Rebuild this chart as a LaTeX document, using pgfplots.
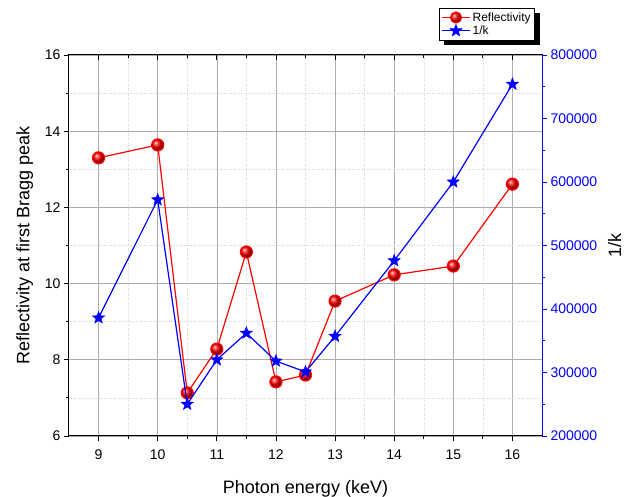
\documentclass[border=0pt]{standalone}
\usepackage{pgfplots}
\pgfplotsset{compat=1.18}
\usepackage{fontspec}
\setmainfont{Liberation Sans}

% filled five-pointed star
\pgfdeclareplotmark{fstar}{%
  \pgfpathmoveto{\pgfpointpolar{90}{\pgfplotmarksize}}%
  \pgfpathlineto{\pgfpointpolar{126}{0.42\pgfplotmarksize}}%
  \pgfpathlineto{\pgfpointpolar{162}{\pgfplotmarksize}}%
  \pgfpathlineto{\pgfpointpolar{198}{0.42\pgfplotmarksize}}%
  \pgfpathlineto{\pgfpointpolar{234}{\pgfplotmarksize}}%
  \pgfpathlineto{\pgfpointpolar{270}{0.42\pgfplotmarksize}}%
  \pgfpathlineto{\pgfpointpolar{306}{\pgfplotmarksize}}%
  \pgfpathlineto{\pgfpointpolar{342}{0.42\pgfplotmarksize}}%
  \pgfpathlineto{\pgfpointpolar{18}{\pgfplotmarksize}}%
  \pgfpathlineto{\pgfpointpolar{54}{0.42\pgfplotmarksize}}%
  \pgfpathclose
  \pgfusepathqfillstroke
}

\begin{document}
\begin{tikzpicture}
\pgfplotsset{
  every axis/.append style={
    scale only axis, width=473pt, height=381pt,
    at={(0,0)}, anchor=south west,
    xmin=8.5, xmax=16.5,
    font=\fontsize{14}{16}\selectfont,
    /pgf/number format/assume math mode=true,
    label style={font=\fontsize{18}{20}\selectfont},
    axis line style={line width=1pt},
    major tick length=5pt, minor tick length=3pt,
  },
}
% left axis: reflectivity
\begin{axis}[
  ymin=6, ymax=16, ytick={6,8,...,16}, minor y tick num=1,
  xtick={9,...,16}, minor x tick num=1,
  xtick pos=bottom, ytick pos=left, tick align=outside,
  tick style={black, line width=0.8pt},
  xticklabel style={yshift=-5pt},
  grid=both,
  major grid style={gray!65, line width=0.6pt, solid},
  minor grid style={gray!35, line width=0.5pt, dotted},
  xlabel={Photon energy (keV)},
  xlabel style={yshift=-14pt},
  ylabel={Reflectivity at first Bragg peak},
  ylabel style={yshift=5pt},
]
\addplot[red, line width=1.2pt, mark=ball, mark size=6pt, mark options={ball color=red}]
  coordinates {(9,13.30) (10,13.64) (10.5,7.13) (11,8.28) (11.5,10.83) (12,7.42)
  (12.5,7.60) (13,9.54) (14,10.23) (15,10.46) (16,12.61)};
\end{axis}
% top ticks, pointing inward
\begin{axis}[
  axis x line*=top, axis y line=none,
  ymin=0, ymax=1,
  xtick={9,...,16}, minor x tick num=1, xticklabels={},
  tick align=inside, tick style={black, line width=0.8pt},
]
\end{axis}
% right axis: 1/k
\begin{axis}[
  axis y line*=right, axis x line=none,
  ymin=200000, ymax=800000, ytick={200000,300000,...,800000}, minor y tick num=1,
  scaled y ticks=false,
  yticklabel style={text=blue, /pgf/number format/fixed, /pgf/number format/1000 sep={}},
  tick align=outside,
  y axis line style={blue, line width=1pt},
  ytick style={blue, line width=0.8pt},
  minor y tick style={blue, line width=0.8pt},
  ylabel={1/k},
  ylabel style={yshift=-4pt},
  legend style={name=leg, at={(0.985,1.123)}, anchor=north east, draw=black, fill=white,
    line width=0.6pt, font=\fontsize{12}{14}\selectfont, inner sep=2pt, row sep=-1pt},
  legend cell align=left,
  legend image code/.code={\draw[mark repeat=2, mark phase=2, #1]
    plot coordinates {(0pt,0pt) (14pt,0pt) (28pt,0pt)};},
]
\addlegendimage{red, line width=1.2pt, mark=ball, mark size=5.5pt, mark options={ball color=red}}
\addlegendentry{Reflectivity}
\addplot[blue, line width=1.2pt, mark=fstar, mark size=6.5pt, mark options={fill=blue, draw=blue, line width=0.4pt}]
  coordinates {(9,386000) (10,572000) (10.5,250000) (11,320000) (11.5,362000) (12,318000)
  (12.5,301000) (13,357000) (14,476000) (15,600000) (16,754000)};
\addlegendentry{1/k}
\end{axis}
% legend shadow
\fill[black] ([shift={(5pt,-5pt)}]leg.south west) rectangle ([shift={(5pt,0pt)}]leg.south east);
\fill[black] ([shift={(0pt,-5pt)}]leg.north east) rectangle ([shift={(5pt,-5pt)}]leg.south east);
\pgfresetboundingbox
\path[use as bounding box] (-69pt,-61pt) rectangle (558pt,436pt);
\end{tikzpicture}
\end{document}
